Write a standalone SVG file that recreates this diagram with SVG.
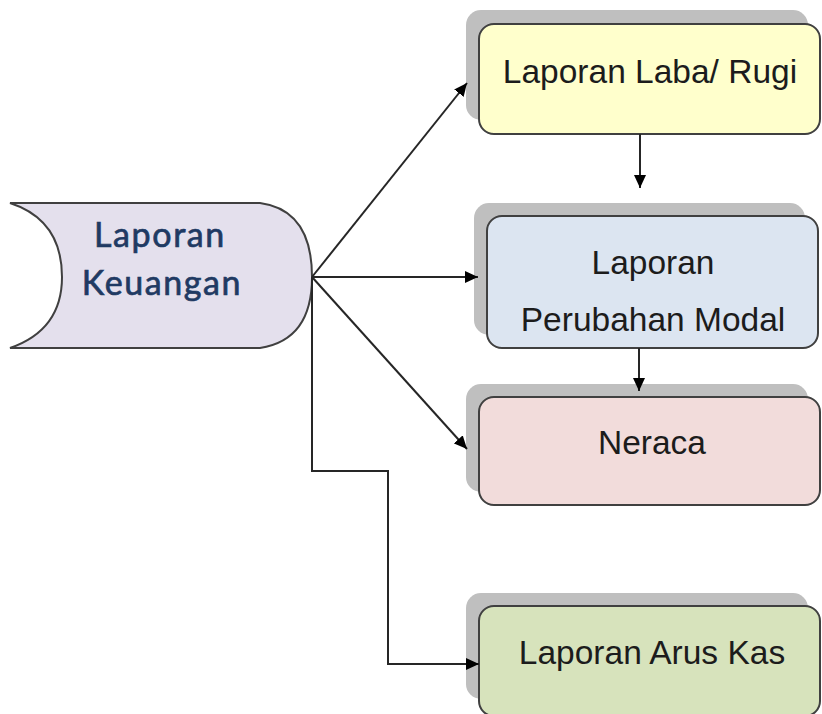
<svg xmlns="http://www.w3.org/2000/svg" width="822" height="714" viewBox="0 0 822 714">
<style>
.sh{fill:#bfbfbf}
.bx{stroke:#404040;stroke-width:2}
.t{font-family:"Liberation Sans",Arial,sans-serif;font-size:33.5px;fill:#1c1c1c;text-anchor:middle}
.tk{font-family:"Lato","Liberation Sans",sans-serif;font-size:34px;fill:#1f3a63;stroke:#1f3a63;stroke-width:0.7px;text-anchor:middle;letter-spacing:1.6px}
.c{fill:none;stroke:#262626;stroke-width:2;marker-end:url(#ah)}
</style>
<defs>
<marker id="ah" viewBox="0 0 13 12" refX="13" refY="6" markerWidth="13" markerHeight="12" markerUnits="userSpaceOnUse" orient="auto">
<path d="M0,0 L13,6 L0,12 z" fill="#000"/>
</marker>
</defs>
<rect width="822" height="714" fill="#fff"/>
<g id="keuangan">
<path d="M10,203 L260,203 Q312,210 312,277 Q312,340 260,348 L10,348 Q62,330 62,277 Q62,220 10,203 z" fill="#e4e0ed" stroke="#404040" stroke-width="2"/>
<text class="tk" x="160" y="247">Laporan</text>
<text class="tk" x="162" y="295">Keuangan</text>
</g>
<g id="labarugi">
<rect class="sh" x="466" y="10" width="342" height="110" rx="15"/>
<rect class="bx" x="479" y="24" width="341" height="110" rx="15" fill="#ffffcc"/>
<text class="t" x="650" y="83">Laporan Laba/ Rugi</text>
</g>
<g id="perubahan">
<rect class="sh" x="474" y="203" width="331" height="132" rx="15"/>
<rect class="bx" x="487" y="216" width="331" height="132" rx="15" fill="#dce5f1"/>
<text class="t" x="653" y="274">Laporan</text>
<text class="t" x="653" y="331">Perubahan Modal</text>
</g>
<g id="neraca">
<rect class="sh" x="466" y="384" width="342" height="108" rx="15"/>
<rect class="bx" x="479" y="397" width="341" height="108" rx="15" fill="#f2dcdb"/>
<text class="t" x="652" y="454">Neraca</text>
</g>
<g id="aruskas">
<rect class="sh" x="466" y="593" width="342" height="106" rx="15"/>
<rect class="bx" x="479" y="606" width="341" height="110" rx="15" fill="#d7e3bc"/>
<text class="t" x="652" y="664">Laporan Arus Kas</text>
</g>
<g id="connectors">
<path class="c" d="M312,277 L467,83"/>
<path class="c" d="M312,277 L478,277"/>
<path class="c" d="M312,277 L467,449"/>
<path class="c" d="M312,277 L312,471 L388,471 L388,664 L479,664"/>
<path class="c" d="M640,134 L640,188"/>
<path class="c" d="M639,348 L639,391"/>
</g>
</svg>
